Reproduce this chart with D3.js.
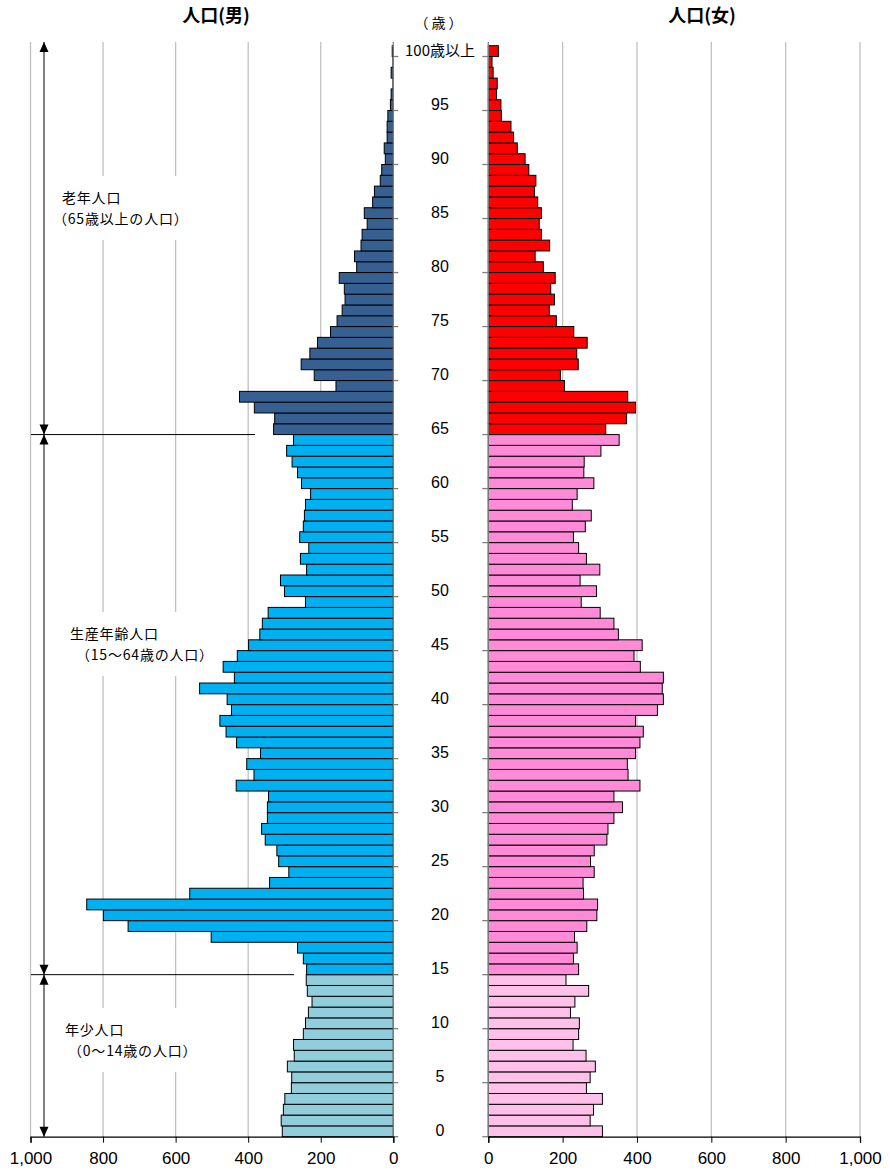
<!DOCTYPE html>
<html><head><meta charset="utf-8">
<script src="https://cdn.jsdelivr.net/npm/d3@7"></script>
<style>
html,body{margin:0;padding:0;background:#fff;}
svg{display:block;}
</style></head>
<body>
<svg id="c" width="890" height="1173"></svg>
<script>
// ages 0 .. 100 (100 = "100歳以上")
const ages = d3.range(0, 101);
const male = [306,309,303,299,281,280,292,273,275,248,
  242,234,224,237,240,239,248,264,502,731,
  799,845,561,341,288,316,321,353,363,347,
  347,344,433,384,404,366,432,461,478,446,
  458,534,438,469,430,399,368,361,345,242,
  300,311,239,256,233,258,248,245,242,228,
  253,264,279,294,275,330,327,383,424,158,
  218,254,230,209,173,155,141,133,135,149,
  101,107,89,86,72,80,57,52,36,32,
  22,25,17,17,15,8,6,1,6,1,
  3];
const female = [307,274,283,307,264,274,288,263,228,243,
  245,221,233,270,209,243,229,239,232,265,
  292,294,256,255,285,275,285,319,322,338,
  361,338,408,376,374,396,408,417,396,455,
  471,468,471,409,392,414,350,338,301,250,
  291,247,300,264,243,229,261,277,226,239,
  284,257,258,303,352,316,372,396,375,205,
  194,242,238,266,230,183,164,178,168,180,
  148,126,165,143,137,143,133,124,128,109,
  99,78,68,61,35,34,22,24,13,10,
  27];
const xTicks = [0,200,400,600,800,1000];
const ageLabels = d3.range(0, 101, 5);
const groups = [
  {name:"老年人口", sub:"（65歳以上の人口）", from:65, to:100},
  {name:"生産年齢人口", sub:"（15～64歳の人口）", from:15, to:64},
  {name:"年少人口", sub:"（0～14歳の人口）", from:0, to:14}
];
const maleColors = {old:"#376092", work:"#00B0F0", young:"#92CDDC"};
const femaleColors = {old:"#FF0000", work:"#FF8BD8", young:"#FFC1E9"};

const svg = d3.select("#c");
const jp = "'Noto Sans CJK JP', sans-serif";
const num = "'Liberation Sans Narrow','Liberation Sans', sans-serif";

const xL = d3.scaleLinear().domain([0,1000]).range([393.3, 30.5]);
const xR = d3.scaleLinear().domain([0,1000]).range([488.3, 860]);
const y = d3.scaleBand().domain(ages.slice().reverse()).range([45.7, 1136.7]).padding(0);
const plotTop = 42, plotBottom = y.range()[1];

function grp(a){ return a>=65 ? "old" : (a>=15 ? "work" : "young"); }

// gridlines
const grid = svg.append("g");
xTicks.filter(t=>t>0).forEach(t=>{
  grid.append("line").attr("x1",xL(t)).attr("x2",xL(t)).attr("y1",plotTop).attr("y2",plotBottom)
    .attr("stroke","#c0c0c0").attr("stroke-width",1.3);
  grid.append("line").attr("x1",xR(t)).attr("x2",xR(t)).attr("y1",plotTop).attr("y2",plotBottom)
    .attr("stroke","#c0c0c0").attr("stroke-width",1.3);
});

// bars
svg.append("g").selectAll("rect").data(ages).join("rect")
  .attr("x", a=>xL(male[a])).attr("width", a=>xL(0)-xL(male[a]))
  .attr("y", a=>y(a)).attr("height", y.bandwidth())
  .attr("fill", a=>maleColors[grp(a)]).attr("stroke","#000").attr("stroke-width",1);
svg.append("g").selectAll("rect").data(ages).join("rect")
  .attr("x", xR(0)).attr("width", a=>xR(female[a])-xR(0))
  .attr("y", a=>y(a)).attr("height", y.bandwidth())
  .attr("fill", a=>femaleColors[grp(a)]).attr("stroke","#000").attr("stroke-width",1);

// vertical axis lines with ticks
[[xL(0), 5],[xR(0), -6]].forEach(([x0,d])=>{
  svg.append("line").attr("x1",x0).attr("x2",x0).attr("y1",plotTop).attr("y2",plotBottom)
    .attr("stroke","#808080").attr("stroke-width",1.3);
  ageLabels.forEach(a=>{
    const yy = y(a)+y.bandwidth();
    svg.append("line").attr("x1",x0).attr("x2",x0+d).attr("y1",yy).attr("y2",yy)
      .attr("stroke","#808080").attr("stroke-width",1.3);
  });
});

// bottom axes
function styleAxis(g){
  g.selectAll("text").attr("font-family",num).attr("font-size",17).attr("fill","#000");
  g.selectAll("line").attr("stroke","#000");
  g.select(".domain").attr("stroke","#000").attr("stroke-width",1.3);
}
svg.append("g").attr("transform",`translate(0,${plotBottom})`)
  .call(d3.axisBottom(xL).tickValues(xTicks).tickFormat(d3.format(",")).tickSizeOuter(0).tickSize(6).tickPadding(9))
  .call(styleAxis);
svg.append("g").attr("transform",`translate(0,${plotBottom})`)
  .call(d3.axisBottom(xR).tickValues(xTicks).tickFormat(d3.format(",")).tickSizeOuter(0).tickSize(6).tickPadding(9))
  .call(styleAxis);

// age labels
ageLabels.forEach(a=>{
  svg.append("text").attr("x",440).attr("y",y(a)+y.bandwidth()/2+5)
    .attr("text-anchor","middle").attr("font-family",a===100?jp:num).attr("font-size",a===100?15:16)
    .text(a===100 ? "100歳以上" : String(a));
});
svg.append("text").attr("x",440).attr("y",28).attr("text-anchor","middle")
  .attr("font-family",jp).attr("font-size",14).attr("letter-spacing",3).text("（歳）");

// titles
svg.append("text").attr("x",216).attr("y",22).attr("text-anchor","middle")
  .attr("font-family",jp).attr("font-weight","bold").attr("font-size",18).text("人口(男)");
svg.append("text").attr("x",702).attr("y",22).attr("text-anchor","middle")
  .attr("font-family",jp).attr("font-weight","bold").attr("font-size",18).text("人口(女)");

// group dividers, arrows and labels
const ax = 44;
const dividerEnd = {65: 255, 15: 294};
const labelPos = [{x:62, sx:53, y:203}, {x:70, sx:76, y:639}, {x:65, sx:68, y:1035}];
groups.forEach((g,i)=>{
  const yTop = i===0 ? plotTop : y(g.to);
  const yBot = y(g.from)+y.bandwidth();
  svg.append("line").attr("x1",ax).attr("x2",ax).attr("y1",yTop).attr("y2",yBot)
    .attr("stroke","#000").attr("stroke-width",1);
  svg.append("path").attr("d",`M${ax},${yTop} l-4.5,10 h9 z`).attr("fill","#000");
  svg.append("path").attr("d",`M${ax},${yBot} l-4.5,-10 h9 z`).attr("fill","#000");
  if (dividerEnd[g.from]) {
    svg.append("line").attr("x1",31).attr("x2",dividerEnd[g.from]).attr("y1",yBot).attr("y2",yBot)
      .attr("stroke","#000").attr("stroke-width",1);
  }
  const p = labelPos[i];
  svg.append("rect").attr("x",50).attr("y",p.y-27).attr("width",152).attr("height",64).attr("fill","#fff");
  svg.append("text").attr("x", p.x).attr("y",p.y)
    .attr("font-family",jp).attr("font-size",14).attr("letter-spacing",0.8).text(g.name);
  svg.append("text").attr("x", p.sx).attr("y",p.y+21)
    .attr("font-family",jp).attr("font-size",14).attr("letter-spacing",0.8).text(g.sub);
});
</script>
</body></html>
